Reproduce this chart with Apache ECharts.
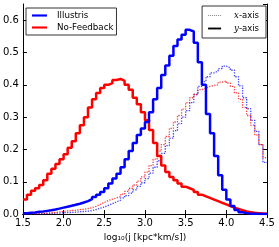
<!DOCTYPE html>
<html><head><meta charset="utf-8">
<script src="https://cdn.jsdelivr.net/npm/echarts@6/dist/echarts.min.js"></script>
<style>html,body{margin:0;padding:0;background:#fff}#c{width:279px;height:247px}</style>
</head><body><div id="c"></div>
<script>
// bin left edges (bin width 0.05), last entry is the right edge 4.5
var binEdges = [1.50,1.55,1.60,1.65,1.70,1.75,1.80,1.85,1.90,1.95,
  2.00,2.05,2.10,2.15,2.20,2.25,2.30,2.35,2.40,2.45,
  2.50,2.55,2.60,2.65,2.70,2.75,2.80,2.85,2.90,2.95,
  3.00,3.05,3.10,3.15,3.20,3.25,3.30,3.35,3.40,3.45,
  3.50,3.55,3.60,3.65,3.70,3.75,3.80,3.85,3.90,3.95,
  4.00,4.05,4.10,4.15,4.20,4.25,4.30,4.35,4.40,4.45,4.50];
var illustrisY = [0.003,0.004,0.005,0.007,0.008,0.010,0.012,0.014,0.017,0.020,
  0.023,0.026,0.029,0.032,0.036,0.040,0.046,0.053,0.060,0.068,
  0.080,0.095,0.110,0.125,0.145,0.170,0.195,0.220,0.245,0.265,
  0.285,0.315,0.355,0.390,0.430,0.460,0.490,0.520,0.540,0.555,
  0.570,0.565,0.530,0.470,0.400,0.310,0.250,0.180,0.120,0.075,
  0.045,0.025,0.013,0.006,0.003,0.001,0.001,0.000,0.000,0.000];
var noFeedbackY = [0.045,0.060,0.072,0.080,0.090,0.105,0.125,0.140,0.155,0.170,
  0.185,0.205,0.225,0.250,0.275,0.300,0.330,0.355,0.375,0.390,
  0.400,0.405,0.415,0.418,0.412,0.400,0.385,0.360,0.340,0.315,
  0.290,0.260,0.220,0.180,0.150,0.130,0.115,0.105,0.095,0.085,
  0.080,0.075,0.068,0.060,0.055,0.050,0.045,0.040,0.035,0.030,
  0.025,0.020,0.016,0.012,0.008,0.006,0.004,0.003,0.002,0.001];
var illustrisX = [0.000,0.000,0.001,0.001,0.001,0.002,0.002,0.003,0.003,0.004,
  0.005,0.005,0.006,0.007,0.008,0.009,0.011,0.014,0.018,0.022,
  0.027,0.032,0.038,0.043,0.050,0.057,0.065,0.075,0.086,0.097,
  0.110,0.127,0.145,0.165,0.188,0.212,0.235,0.258,0.280,0.300,
  0.320,0.345,0.370,0.395,0.410,0.425,0.437,0.443,0.450,0.458,
  0.452,0.445,0.425,0.397,0.360,0.326,0.290,0.256,0.215,0.160];
var noFeedbackX = [0.000,0.001,0.001,0.002,0.002,0.003,0.004,0.005,0.007,0.008,
  0.010,0.011,0.012,0.014,0.015,0.017,0.020,0.024,0.030,0.036,
  0.042,0.046,0.050,0.054,0.062,0.070,0.080,0.090,0.102,0.115,
  0.130,0.150,0.170,0.195,0.215,0.240,0.265,0.285,0.305,0.325,
  0.345,0.360,0.370,0.385,0.390,0.395,0.398,0.400,0.408,0.412,
  0.405,0.395,0.375,0.355,0.330,0.305,0.275,0.245,0.215,0.175];

function steps(vals){
  var d = [];
  for (var i = 0; i < vals.length; i++) d.push([binEdges[i], vals[i]]);
  d.push([binEdges[vals.length], vals[vals.length-1]]);
  return d;
}
var FONT = 'DejaVu Sans';
var SOLID_ICON = 'path://M0,4 L14,4 L14,6 L0,6 Z';
var DOT_ICON = 'path://M0,4.5h1v1h-1z M2,4.5h1v1h-1z M4,4.5h1v1h-1z M6,4.5h1v1h-1z M8,4.5h1v1h-1z M10,4.5h1v1h-1z M12,4.5h1v1h-1z';
var chart = echarts.init(document.getElementById('c'), null, {renderer:'canvas'});
var axisBase = {
  axisLine:{show:true,lineStyle:{color:'#000',width:1}},
  axisTick:{show:true,inside:true,length:4,lineStyle:{color:'#000',width:1}},
  splitLine:{show:false}
};
chart.setOption({
  animation:false,
  backgroundColor:'#fff',
  grid:{left:22,right:12,top:4,bottom:30,containLabel:false},
  xAxis:[
    Object.assign({type:'value',min:1.5,max:4.5,interval:0.5,position:'bottom',
      axisLabel:{fontFamily:FONT,fontSize:10,color:'#000',margin:4,
        formatter:function(v){return v.toFixed(1);}},
      name:'log\u2081\u2080(j [kpc*km/s])',nameLocation:'middle',nameGap:15,
      nameTextStyle:{fontFamily:FONT,fontSize:9,color:'#000'}}, axisBase),
    Object.assign({type:'value',min:1.5,max:4.5,interval:0.5,position:'top',
      axisLabel:{show:false}}, axisBase)
  ],
  yAxis:[
    Object.assign({type:'value',min:0,max:0.65,interval:0.1,position:'left',
      axisLabel:{fontFamily:FONT,fontSize:10,color:'#000',margin:4,showMaxLabel:false,
        formatter:function(v){return v.toFixed(1);}}}, axisBase),
    Object.assign({type:'value',min:0,max:0.65,interval:0.1,position:'right',
      axisLabel:{show:false}}, axisBase)
  ],
  legend:[
    {data:[{name:'Illustris',icon:SOLID_ICON},{name:'No-Feedback',icon:SOLID_ICON}],
      orient:'vertical',left:26,top:8,
      itemWidth:15,itemHeight:9,itemGap:3,padding:[3,3,3,6],
      borderColor:'#000',borderWidth:0.8,backgroundColor:'#fff',borderRadius:0,
      textStyle:{fontFamily:FONT,fontSize:8.7,color:'#000',padding:[0,0,0,5]}},
    {data:[{name:'x-axis',icon:DOT_ICON,itemStyle:{color:'#888'}},{name:'y-axis',icon:SOLID_ICON}],
      orient:'vertical',right:13,top:6,
      itemWidth:13,itemHeight:9,itemGap:4,padding:[5,7,5,6],
      borderColor:'#000',borderWidth:0.8,backgroundColor:'#fff',borderRadius:0,
      textStyle:{fontFamily:FONT,fontSize:8.5,color:'#000',padding:[0,0,0,8],
        rich:{i:{fontFamily:'DejaVu Serif',fontSize:8.5,fontStyle:'italic',color:'#000'}}},
      formatter:function(n){return '{i|'+n.charAt(0)+'}'+n.slice(1);}}
  ],
  series:[
    {name:'Illustris x',type:'line',step:'end',data:steps(illustrisX),showSymbol:false,symbol:'none',
      lineStyle:{color:'#0000ff',width:1.3,type:'dotted',opacity:0.75},z:2},
    {name:'No-Feedback x',type:'line',step:'end',data:steps(noFeedbackX),showSymbol:false,symbol:'none',
      lineStyle:{color:'#ff0000',width:1.3,type:'dotted',opacity:0.75},z:2},
    {name:'No-Feedback',type:'line',step:'end',data:steps(noFeedbackY),showSymbol:false,symbol:'none',
      itemStyle:{color:'#ff0000'},lineStyle:{color:'#ff0000',width:2.5},z:3},
    {name:'Illustris',type:'line',step:'end',data:steps(illustrisY),showSymbol:false,symbol:'none',
      itemStyle:{color:'#0000ff'},lineStyle:{color:'#0000ff',width:2.5},z:4},
    {name:'x-axis',type:'line',data:[],symbol:'none',itemStyle:{color:'#888'},
      lineStyle:{color:'#888',width:1,type:'dotted'}},
    {name:'y-axis',type:'line',data:[],symbol:'none',itemStyle:{color:'#000'},
      lineStyle:{color:'#000',width:2}}
  ]
});
</script></body></html>
